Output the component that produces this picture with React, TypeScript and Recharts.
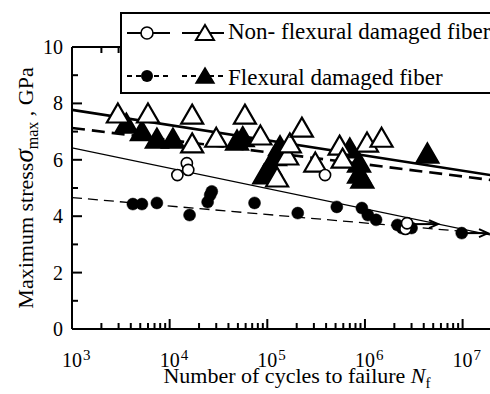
import React from 'react'
import { ComposedChart, XAxis, YAxis, Scatter, Line } from 'recharts'

// S-N 圖：最大應力 vs 破壞循環數（對數軸）
const FONT = '"Liberation Serif", "Times New Roman", serif'

// X 軸刻度（對數）
const X_MAJOR = [1e3, 1e4, 1e5, 1e6, 1e7]
const X_EXP = ['3', '4', '5', '6', '7']
const X_MINOR_MULT = [2, 3, 4, 5, 6, 7, 8, 9]
const X_TICKS = [...X_MAJOR, ...X_MAJOR.slice(0, 4).flatMap(d => X_MINOR_MULT.map(m => d * m))]
const Y_TICKS = [0, 1, 2, 3, 4, 5, 6, 7, 8, 9, 10]

// 非彎曲損傷纖維：△
const OPEN_TRI_N = [2950, 6000, 17000, 59000, 17000, 30000, 85000, 126000, 160000, 170000, 226000, 310000, 550000, 590000, 1050000, 1480000]
const OPEN_TRI_S = [7.66, 7.66, 7.62, 7.62, 6.6, 6.8, 6.88, 5.39, 6.17, 6.6, 7.16, 5.92, 6.52, 6.06, 6.63, 6.8]
// 彎曲損傷纖維：▲
const FILLED_TRI_N = [3600, 5200, 7400, 10800, 49000, 56000, 93000, 107000, 120000, 135000, 700000, 870000, 870000, 940000, 4360000]
const FILLED_TRI_S = [7.3, 7.03, 6.77, 6.77, 6.7, 6.82, 5.5, 5.8, 6.15, 6.5, 6.42, 5.92, 5.53, 5.35, 6.24]
// 非彎曲損傷纖維：○
const OPEN_CIRC_N = [12000, 15000, 15500, 390000, 2600000, 2700000]
const OPEN_CIRC_S = [5.46, 5.88, 5.64, 5.46, 3.55, 3.75]
// 彎曲損傷纖維：●
const FILLED_CIRC_N = [4200, 5200, 7400, 16000, 24500, 26000, 27000, 74000, 205000, 515000, 930000, 1070000, 1300000, 2150000, 2400000, 3000000, 9800000]
const FILLED_CIRC_S = [4.43, 4.43, 4.47, 4.04, 4.5, 4.75, 4.88, 4.47, 4.11, 4.33, 4.29, 4.04, 3.87, 3.69, 3.58, 3.58, 3.4]

// 迴歸線（兩端點）
const FIT_N = [1000, 20000000]
const FIT_TRI_OPEN = [7.77, 5.45]
const FIT_TRI_FILLED = [7.13, 5.28]
const FIT_CIRC_OPEN = [6.42, 3.32]
const FIT_CIRC_FILLED = [4.66, 3.37]

// 未破壞（run-out）箭頭
const ARROW_FROM_N = [2700000, 9800000]
const ARROW_TO_N = [5600000, 18200000]
const ARROW_S = [3.72, 3.4]

const pts = (n: number[], s: number[]) => n.map((x, i) => ({ x, y: s[i] }))

const TriShape = (filled: boolean) => (p: any) => {
  const { cx, cy } = p
  const w = 22, h = 19
  return (
    <path
      d={`M${cx},${cy - h / 2} L${cx + w / 2},${cy + h / 2} L${cx - w / 2},${cy + h / 2} Z`}
      fill={filled ? '#000' : '#fff'}
      stroke="#000"
      strokeWidth={2.2}
      strokeLinejoin="miter"
    />
  )
}

const CircShape = (filled: boolean) => (p: any) => (
  <circle cx={p.cx} cy={p.cy} r={filled ? 6 : 5.6} fill={filled ? '#000' : '#fff'} stroke="#000" strokeWidth={filled ? 0.5 : 1.6} />
)

const ArrowDot = (p: any) => {
  const { cx, cy, index } = p
  if (index !== 1) return <g key={`a${index}`} />
  return (
    <path key={`a${index}`} d={`M${cx - 9},${cy - 4} L${cx},${cy} L${cx - 9},${cy + 4}`} fill="none" stroke="#000" strokeWidth={2} />
  )
}

const BottomTick = (p: any) => {
  const { x, y, payload } = p
  const i = X_MAJOR.indexOf(payload.value)
  const major = i >= 0
  return (
    <g>
      <line x1={x} y1={y} x2={x} y2={y - (major ? 10 : 6)} stroke="#000" strokeWidth={2} />
      {major && (
        <text x={x - 10} y={y + 38} fontSize={20} fontFamily={FONT} fill="#000">
          10<tspan fontSize={15} dx={1} dy={-7}>{X_EXP[i]}</tspan>
        </text>
      )}
    </g>
  )
}

const TopTick = (p: any) => {
  const { x, y, payload } = p
  const major = X_MAJOR.includes(payload.value)
  return <line x1={x} y1={y} x2={x} y2={y + (major ? 10 : 6)} stroke="#000" strokeWidth={2} />
}

const LeftTick = (p: any) => {
  const { x, y, payload } = p
  const major = payload.value % 2 === 0
  return (
    <g>
      <line x1={x} y1={y} x2={x + (major ? 10 : 6)} y2={y} stroke="#000" strokeWidth={2} />
      {major && (
        <text x={x - 9} y={y + 7} fontSize={20} fontFamily={FONT} textAnchor="end" fill="#000">
          {payload.value}
        </text>
      )}
    </g>
  )
}

const RightTick = (p: any) => {
  const { x, y, payload } = p
  const major = payload.value % 2 === 0
  return <line x1={x} y1={y} x2={x - (major ? 10 : 6)} y2={y} stroke="#000" strokeWidth={2} />
}

const XTitle = (p: any) => {
  const { viewBox } = p
  const cx = viewBox.x + viewBox.width / 2 + 15
  return (
    <text x={cx} y={viewBox.y + 54} fontSize={22} fontFamily={FONT} textAnchor="middle" fill="#000">
      Number of cycles to failure <tspan fontStyle="italic">N</tspan>
      <tspan fontSize={15} dy={5}>f</tspan>
    </text>
  )
}

const YTitle = (p: any) => {
  const { viewBox } = p
  const cy = viewBox.y + viewBox.height / 2
  const cx = 33
  return (
    <text
      x={cx}
      y={cy}
      transform={`rotate(-90 ${cx} ${cy})`}
      fontSize={22}
      fontFamily={FONT}
      textAnchor="middle"
      fill="#000"
    >
      Maximum stress<tspan fontStyle="italic" fontSize={27}>σ</tspan>
      <tspan fontSize={16} dy={5}>max</tspan>
      <tspan dy={-5}> , GPa</tspan>
    </text>
  )
}

// 圖例（疊在圖上方，白底黑框）
const LegendBox = () => (
  <svg width={380} height={82} style={{ position: 'absolute', left: 120, top: 12, display: 'block' }}>
    <rect x={1} y={1} width={400} height={80} fill="#fff" stroke="#000" strokeWidth={2} />
    <g stroke="#000" strokeWidth={1.8}>
      <line x1={7} y1={21} x2={50} y2={21} />
      <line x1={62} y1={21} x2={104} y2={21} />
      <line x1={7} y1={64} x2={50} y2={64} strokeDasharray="5 4" />
      <line x1={62} y1={64} x2={104} y2={64} strokeDasharray="5 4" />
    </g>
    <circle cx={27} cy={21} r={6} fill="#fff" stroke="#000" strokeWidth={1.6} />
    <path d="M85,13 L94,28 L76,28 Z" fill="#fff" stroke="#000" strokeWidth={2} />
    <circle cx={27} cy={64} r={6} fill="#000" />
    <path d="M85,56 L94,71 L76,71 Z" fill="#000" stroke="#000" strokeWidth={1.5} />
    <g fontFamily={FONT} fontSize={23} fill="#000">
      <text x={108} y={27}>Non- flexural damaged fiber</text>
      <text x={108} y={73}>Flexural damaged fiber</text>
    </g>
  </svg>
)

export default function App() {
  return (
    <div style={{ position: 'absolute', left: 0, top: 0, width: 490, height: 394, overflow: 'hidden', background: '#fff' }}>
      <ComposedChart width={500} height={394} margin={{ top: 0, right: 0, bottom: 0, left: 0 }}>
        <XAxis
          xAxisId="b"
          dataKey="x"
          type="number"
          scale="log"
          domain={[1000, 20000000]}
          allowDataOverflow
          ticks={X_TICKS}
          interval={0}
          height={65}
          tickSize={0}
          tickMargin={0}
          tickLine={false}
          axisLine={{ stroke: '#000', strokeWidth: 2 }}
          tick={<BottomTick />}
          label={<XTitle />}
        />
        <XAxis
          xAxisId="t"
          orientation="top"
          dataKey="x"
          type="number"
          scale="log"
          domain={[1000, 20000000]}
          allowDataOverflow
          ticks={X_TICKS}
          interval={0}
          height={47}
          tickSize={0}
          tickMargin={0}
          tickLine={false}
          axisLine={{ stroke: '#000', strokeWidth: 2 }}
          tick={<TopTick />}
        />
        <YAxis
          yAxisId="l"
          type="number"
          domain={[0, 10]}
          ticks={Y_TICKS}
          interval={0}
          width={72}
          tickSize={0}
          tickMargin={0}
          tickLine={false}
          axisLine={{ stroke: '#000', strokeWidth: 2 }}
          tick={<LeftTick />}
          label={<YTitle />}
        />
        <YAxis
          yAxisId="r"
          orientation="right"
          type="number"
          domain={[0, 10]}
          ticks={Y_TICKS}
          interval={0}
          width={8}
          tickSize={0}
          tickMargin={0}
          tickLine={false}
          axisLine={{ stroke: '#000', strokeWidth: 2 }}
          tick={<RightTick />}
        />

        <Line xAxisId="b" yAxisId="l" data={pts(FIT_N, FIT_TRI_OPEN)} dataKey="y" type="linear" stroke="#000" strokeWidth={2.6} dot={false} isAnimationActive={false} />
        <Line xAxisId="b" yAxisId="l" data={pts(FIT_N, FIT_TRI_FILLED)} dataKey="y" type="linear" stroke="#000" strokeWidth={2.6} strokeDasharray="13 7" dot={false} isAnimationActive={false} />
        <Line xAxisId="b" yAxisId="l" data={pts(FIT_N, FIT_CIRC_OPEN)} dataKey="y" type="linear" stroke="#000" strokeWidth={1.3} dot={false} isAnimationActive={false} />
        <Line xAxisId="b" yAxisId="l" data={pts(FIT_N, FIT_CIRC_FILLED)} dataKey="y" type="linear" stroke="#000" strokeWidth={1.3} strokeDasharray="10 6" dot={false} isAnimationActive={false} />
        {ARROW_S.map((s, i) => (
          <Line
            key={`arrow${i}`}
            xAxisId="b"
            yAxisId="l"
            data={[{ x: ARROW_FROM_N[i], y: s }, { x: ARROW_TO_N[i], y: s }]}
            dataKey="y"
            type="linear"
            stroke="#000"
            strokeWidth={2}
            dot={ArrowDot}
            activeDot={false}
            isAnimationActive={false}
          />
        ))}

        <Scatter xAxisId="b" yAxisId="l" data={pts(FILLED_TRI_N, FILLED_TRI_S)} dataKey="y" shape={TriShape(true)} isAnimationActive={false} />
        <Scatter xAxisId="b" yAxisId="l" data={pts(OPEN_TRI_N, OPEN_TRI_S)} dataKey="y" shape={TriShape(false)} isAnimationActive={false} />
        <Scatter xAxisId="b" yAxisId="l" data={pts(FILLED_CIRC_N, FILLED_CIRC_S)} dataKey="y" shape={CircShape(true)} isAnimationActive={false} />
        <Scatter xAxisId="b" yAxisId="l" data={pts(OPEN_CIRC_N, OPEN_CIRC_S)} dataKey="y" shape={CircShape(false)} isAnimationActive={false} />
      </ComposedChart>
      <LegendBox />
    </div>
  )
}
